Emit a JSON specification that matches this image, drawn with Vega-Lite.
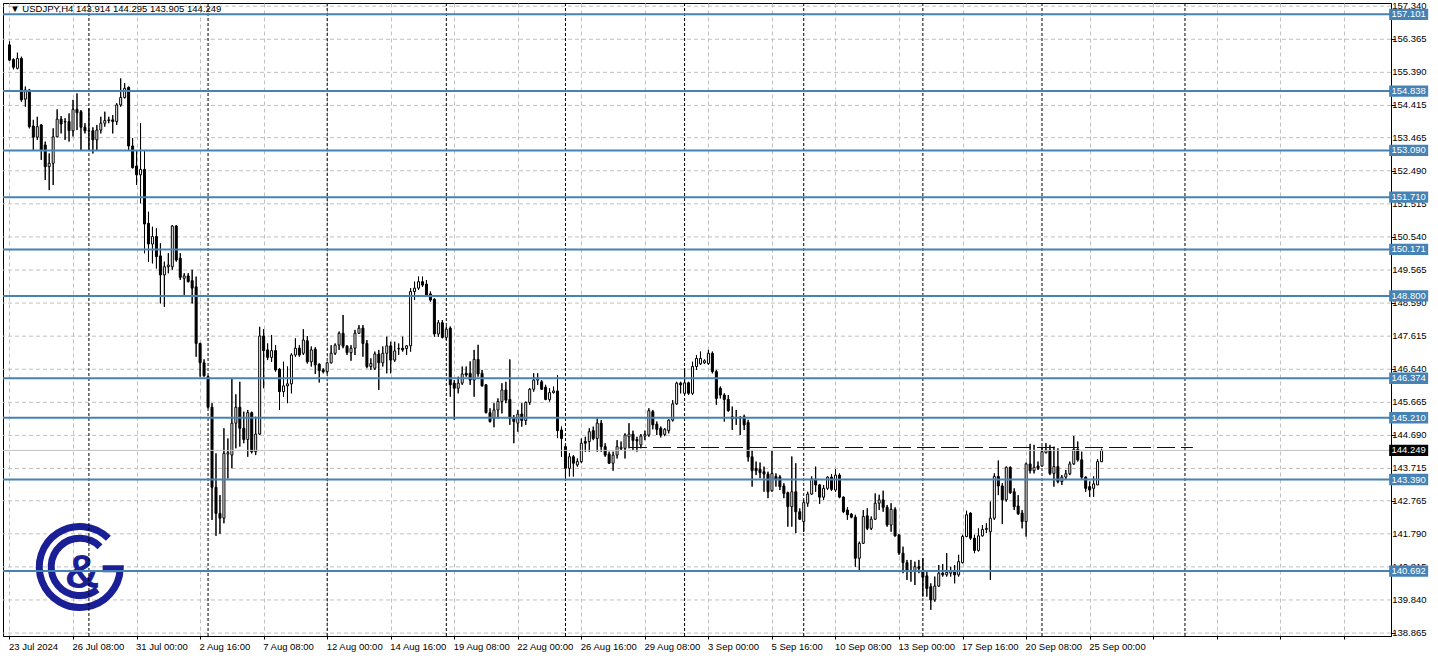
{
"$schema": "https://vega.github.io/schema/vega-lite/v6.json",
"width": 1388, "height": 633,
"autosize": {"type": "none"},
"padding": {"left": 3, "top": 3, "right": 47, "bottom": 22},
"background": "white",
"config": {"view": {"stroke": "black", "strokeWidth": 1}, "axis": {"labelOverlap": false, "labelSeparation": 0, "labelBound": false, "labelFlush": false}},
"datasets": {
"candles": [
{"i":0,"o":156.20,"h":156.30,"l":155.73,"c":155.75},
{"i":1,"o":155.77,"h":155.80,"l":155.48,"c":155.54},
{"i":2,"o":155.51,"h":155.97,"l":155.48,"c":155.80},
{"i":3,"o":155.80,"h":155.85,"l":154.53,"c":154.58},
{"i":4,"o":154.60,"h":154.97,"l":154.38,"c":154.87},
{"i":5,"o":154.87,"h":154.90,"l":153.74,"c":153.79},
{"i":6,"o":153.81,"h":153.99,"l":153.10,"c":153.48},
{"i":7,"o":153.48,"h":154.08,"l":153.40,"c":153.79},
{"i":8,"o":153.84,"h":153.87,"l":152.81,"c":153.10},
{"i":9,"o":153.25,"h":153.35,"l":152.22,"c":152.61},
{"i":10,"o":152.61,"h":153.00,"l":151.92,"c":152.71},
{"i":11,"o":152.71,"h":153.74,"l":152.07,"c":153.49},
{"i":12,"o":153.49,"h":154.30,"l":153.48,"c":154.01},
{"i":13,"o":154.01,"h":154.10,"l":153.59,"c":153.87},
{"i":14,"o":153.94,"h":154.04,"l":153.40,"c":153.93},
{"i":15,"o":153.94,"h":154.18,"l":153.35,"c":153.67},
{"i":16,"o":153.67,"h":154.58,"l":153.50,"c":154.30},
{"i":17,"o":154.30,"h":154.77,"l":153.69,"c":154.20},
{"i":18,"o":154.23,"h":154.28,"l":153.10,"c":153.77},
{"i":19,"o":153.77,"h":153.89,"l":153.59,"c":153.67},
{"i":20,"o":153.67,"h":154.33,"l":153.10,"c":153.66},
{"i":21,"o":153.67,"h":153.77,"l":153.00,"c":153.40},
{"i":22,"o":153.40,"h":153.84,"l":153.10,"c":153.69},
{"i":23,"o":153.69,"h":154.08,"l":153.59,"c":153.89},
{"i":24,"o":153.89,"h":154.23,"l":153.79,"c":153.97},
{"i":25,"o":153.97,"h":154.08,"l":153.89,"c":153.99},
{"i":26,"o":153.99,"h":154.13,"l":153.59,"c":153.94},
{"i":27,"o":153.94,"h":154.48,"l":153.84,"c":154.43},
{"i":28,"o":154.43,"h":155.21,"l":154.38,"c":154.65},
{"i":29,"o":154.65,"h":155.07,"l":154.62,"c":154.92},
{"i":30,"o":154.95,"h":154.97,"l":153.10,"c":153.22},
{"i":31,"o":153.22,"h":153.45,"l":152.56,"c":152.58},
{"i":32,"o":152.63,"h":153.10,"l":152.07,"c":152.37},
{"i":33,"o":152.37,"h":153.89,"l":151.53,"c":152.53},
{"i":34,"o":152.53,"h":153.10,"l":150.06,"c":150.92},
{"i":35,"o":150.94,"h":151.28,"l":149.81,"c":150.33},
{"i":36,"o":150.33,"h":150.84,"l":149.76,"c":150.55},
{"i":37,"o":150.55,"h":150.79,"l":149.61,"c":149.96},
{"i":38,"o":149.98,"h":150.35,"l":148.58,"c":149.42},
{"i":39,"o":149.42,"h":149.81,"l":148.48,"c":149.66},
{"i":40,"o":149.66,"h":150.06,"l":149.47,"c":149.71},
{"i":41,"o":149.66,"h":150.89,"l":149.57,"c":150.86},
{"i":42,"o":150.86,"h":150.89,"l":149.81,"c":149.86},
{"i":43,"o":149.91,"h":150.06,"l":149.27,"c":149.35},
{"i":44,"o":149.32,"h":149.47,"l":148.83,"c":149.39},
{"i":45,"o":149.39,"h":149.47,"l":149.20,"c":149.22},
{"i":46,"o":149.25,"h":149.57,"l":148.58,"c":149.03},
{"i":47,"o":149.07,"h":149.37,"l":147.01,"c":147.40},
{"i":48,"o":147.40,"h":147.42,"l":146.42,"c":146.83},
{"i":49,"o":146.83,"h":146.93,"l":146.42,"c":146.45},
{"i":50,"o":146.42,"h":146.45,"l":145.49,"c":145.52},
{"i":51,"o":145.52,"h":145.64,"l":142.20,"c":143.16},
{"i":52,"o":143.16,"h":144.16,"l":141.73,"c":142.39},
{"i":53,"o":142.39,"h":142.93,"l":141.79,"c":142.25},
{"i":54,"o":142.25,"h":144.90,"l":142.10,"c":144.16},
{"i":55,"o":144.14,"h":144.60,"l":143.42,"c":144.18},
{"i":56,"o":144.11,"h":146.37,"l":143.72,"c":145.05},
{"i":57,"o":145.05,"h":145.90,"l":144.31,"c":145.52},
{"i":58,"o":145.52,"h":146.27,"l":144.36,"c":144.90},
{"i":59,"o":144.90,"h":145.39,"l":144.46,"c":144.57},
{"i":60,"o":144.57,"h":145.44,"l":144.06,"c":145.36},
{"i":61,"o":145.36,"h":145.39,"l":144.16,"c":144.21},
{"i":62,"o":144.21,"h":145.24,"l":144.11,"c":144.73},
{"i":63,"o":144.73,"h":147.89,"l":144.70,"c":147.62},
{"i":64,"o":147.62,"h":147.82,"l":146.08,"c":147.19},
{"i":65,"o":147.21,"h":147.40,"l":146.91,"c":146.99},
{"i":66,"o":146.99,"h":147.65,"l":146.86,"c":147.19},
{"i":67,"o":147.19,"h":147.35,"l":146.57,"c":146.62},
{"i":68,"o":146.64,"h":146.67,"l":145.44,"c":145.98},
{"i":69,"o":145.98,"h":146.86,"l":145.83,"c":146.15},
{"i":70,"o":146.15,"h":146.72,"l":145.64,"c":146.21},
{"i":71,"o":146.21,"h":147.11,"l":145.93,"c":147.06},
{"i":72,"o":147.06,"h":147.55,"l":147.01,"c":147.26},
{"i":73,"o":147.26,"h":147.35,"l":147.01,"c":147.06},
{"i":74,"o":147.11,"h":147.82,"l":147.06,"c":147.50},
{"i":75,"o":147.48,"h":147.62,"l":146.81,"c":146.86},
{"i":76,"o":146.86,"h":147.31,"l":146.72,"c":147.21},
{"i":77,"o":147.23,"h":147.29,"l":146.50,"c":146.77},
{"i":78,"o":146.79,"h":146.81,"l":146.25,"c":146.60},
{"i":79,"o":146.62,"h":146.67,"l":146.52,"c":146.57},
{"i":80,"o":146.57,"h":146.86,"l":146.52,"c":146.83},
{"i":81,"o":146.83,"h":147.35,"l":146.81,"c":147.11},
{"i":82,"o":147.11,"h":147.40,"l":147.06,"c":147.35},
{"i":83,"o":147.35,"h":147.75,"l":147.21,"c":147.70},
{"i":84,"o":147.70,"h":148.24,"l":147.26,"c":147.32},
{"i":85,"o":147.32,"h":147.35,"l":147.06,"c":147.13},
{"i":86,"o":147.13,"h":147.35,"l":146.89,"c":147.26},
{"i":87,"o":147.26,"h":147.80,"l":147.06,"c":147.70},
{"i":88,"o":147.70,"h":147.94,"l":147.68,"c":147.85},
{"i":89,"o":147.85,"h":147.94,"l":147.01,"c":147.40},
{"i":90,"o":147.40,"h":147.50,"l":146.67,"c":146.72},
{"i":91,"o":146.72,"h":146.96,"l":146.62,"c":146.81},
{"i":92,"o":146.67,"h":147.16,"l":146.62,"c":147.09},
{"i":93,"o":147.09,"h":147.21,"l":146.03,"c":146.83},
{"i":94,"o":146.83,"h":147.31,"l":146.72,"c":147.11},
{"i":95,"o":147.11,"h":147.60,"l":146.52,"c":147.33},
{"i":96,"o":147.33,"h":147.45,"l":146.52,"c":146.91},
{"i":97,"o":146.91,"h":147.45,"l":146.86,"c":147.18},
{"i":98,"o":147.24,"h":147.40,"l":147.06,"c":147.25},
{"i":99,"o":147.26,"h":147.60,"l":147.16,"c":147.21},
{"i":100,"o":147.25,"h":147.35,"l":147.06,"c":147.33},
{"i":101,"o":147.33,"h":149.03,"l":147.16,"c":148.93},
{"i":102,"o":148.93,"h":149.22,"l":148.68,"c":149.03},
{"i":103,"o":149.03,"h":149.37,"l":148.98,"c":149.22},
{"i":104,"o":149.22,"h":149.37,"l":149.07,"c":149.12},
{"i":105,"o":149.15,"h":149.27,"l":148.78,"c":148.83},
{"i":106,"o":148.86,"h":148.93,"l":148.63,"c":148.68},
{"i":107,"o":148.70,"h":148.73,"l":147.60,"c":147.68},
{"i":108,"o":147.68,"h":148.09,"l":147.60,"c":148.01},
{"i":109,"o":148.01,"h":148.09,"l":147.55,"c":147.58},
{"i":110,"o":147.58,"h":147.90,"l":147.50,"c":147.82},
{"i":111,"o":147.85,"h":147.90,"l":145.83,"c":146.18},
{"i":112,"o":146.23,"h":146.32,"l":145.15,"c":146.08},
{"i":113,"o":146.08,"h":146.42,"l":145.93,"c":146.23},
{"i":114,"o":146.23,"h":146.72,"l":146.18,"c":146.50},
{"i":115,"o":146.52,"h":146.72,"l":146.42,"c":146.47},
{"i":116,"o":146.52,"h":146.87,"l":146.18,"c":146.32},
{"i":117,"o":146.32,"h":147.21,"l":145.83,"c":146.93},
{"i":118,"o":146.93,"h":147.36,"l":146.42,"c":146.50},
{"i":119,"o":146.52,"h":146.62,"l":146.13,"c":146.15},
{"i":120,"o":146.18,"h":146.20,"l":145.34,"c":145.36},
{"i":121,"o":145.36,"h":145.49,"l":145.07,"c":145.10},
{"i":122,"o":145.19,"h":145.64,"l":144.93,"c":145.44},
{"i":123,"o":145.44,"h":145.78,"l":145.19,"c":145.69},
{"i":124,"o":145.69,"h":146.23,"l":145.34,"c":146.03},
{"i":125,"o":146.03,"h":146.27,"l":145.64,"c":145.73},
{"i":126,"o":145.75,"h":146.93,"l":145.00,"c":145.19},
{"i":127,"o":145.19,"h":145.29,"l":144.46,"c":145.10},
{"i":128,"o":145.05,"h":145.44,"l":144.80,"c":145.32},
{"i":129,"o":145.32,"h":145.64,"l":144.95,"c":145.13},
{"i":130,"o":145.13,"h":145.69,"l":145.00,"c":145.66},
{"i":131,"o":145.66,"h":146.08,"l":145.59,"c":146.05},
{"i":132,"o":146.05,"h":146.52,"l":145.98,"c":146.32},
{"i":133,"o":146.32,"h":146.52,"l":146.18,"c":146.37},
{"i":134,"o":146.27,"h":146.32,"l":146.03,"c":146.05},
{"i":135,"o":146.11,"h":146.18,"l":145.73,"c":145.75},
{"i":136,"o":145.75,"h":146.08,"l":145.69,"c":145.95},
{"i":137,"o":145.95,"h":146.13,"l":145.93,"c":146.00},
{"i":138,"o":146.00,"h":146.47,"l":144.61,"c":144.83},
{"i":139,"o":144.85,"h":144.95,"l":144.06,"c":144.60},
{"i":140,"o":144.36,"h":144.40,"l":143.43,"c":143.72},
{"i":141,"o":143.72,"h":144.16,"l":143.48,"c":144.06},
{"i":142,"o":144.06,"h":144.11,"l":143.48,"c":143.87},
{"i":143,"o":143.82,"h":144.01,"l":143.77,"c":143.92},
{"i":144,"o":143.92,"h":144.60,"l":143.87,"c":144.46},
{"i":145,"o":144.51,"h":144.65,"l":144.21,"c":144.46},
{"i":146,"o":144.51,"h":144.90,"l":144.21,"c":144.80},
{"i":147,"o":144.83,"h":144.95,"l":144.55,"c":144.60},
{"i":148,"o":144.60,"h":145.19,"l":144.21,"c":145.05},
{"i":149,"o":145.05,"h":145.14,"l":144.21,"c":144.36},
{"i":150,"o":144.36,"h":144.46,"l":144.06,"c":144.11},
{"i":151,"o":144.14,"h":144.21,"l":143.85,"c":143.87},
{"i":152,"o":143.87,"h":144.21,"l":143.65,"c":144.11},
{"i":153,"o":144.11,"h":144.55,"l":144.01,"c":144.36},
{"i":154,"o":144.30,"h":144.51,"l":144.26,"c":144.34},
{"i":155,"o":144.31,"h":144.75,"l":144.01,"c":144.70},
{"i":156,"o":144.65,"h":145.05,"l":144.31,"c":144.73},
{"i":157,"o":144.73,"h":144.83,"l":144.26,"c":144.54},
{"i":158,"o":144.57,"h":144.65,"l":144.21,"c":144.53},
{"i":159,"o":144.41,"h":144.73,"l":144.31,"c":144.67},
{"i":160,"o":144.67,"h":144.83,"l":144.55,"c":144.72},
{"i":161,"o":144.70,"h":145.49,"l":144.65,"c":145.42},
{"i":162,"o":145.39,"h":145.44,"l":144.87,"c":145.00},
{"i":163,"o":145.02,"h":145.10,"l":144.70,"c":144.87},
{"i":164,"o":144.90,"h":144.95,"l":144.63,"c":144.70},
{"i":165,"o":144.72,"h":144.90,"l":144.67,"c":144.87},
{"i":166,"o":144.83,"h":145.16,"l":144.75,"c":145.14},
{"i":167,"o":145.14,"h":145.73,"l":145.10,"c":145.62},
{"i":168,"o":145.62,"h":146.27,"l":145.59,"c":146.23},
{"i":169,"o":146.23,"h":146.27,"l":145.93,"c":146.18},
{"i":170,"o":145.93,"h":146.67,"l":145.88,"c":146.24},
{"i":171,"o":146.24,"h":146.27,"l":145.88,"c":145.93},
{"i":172,"o":145.93,"h":146.86,"l":145.88,"c":146.72},
{"i":173,"o":146.72,"h":147.06,"l":146.62,"c":146.96},
{"i":174,"o":146.80,"h":147.16,"l":146.77,"c":146.96},
{"i":175,"o":146.83,"h":146.93,"l":146.80,"c":146.89},
{"i":176,"o":146.81,"h":147.21,"l":146.77,"c":147.11},
{"i":177,"o":147.11,"h":147.16,"l":146.52,"c":146.57},
{"i":178,"o":146.57,"h":146.62,"l":145.59,"c":145.78},
{"i":179,"o":146.08,"h":146.13,"l":145.78,"c":145.88},
{"i":180,"o":145.88,"h":145.93,"l":145.10,"c":145.75},
{"i":181,"o":145.75,"h":145.88,"l":145.39,"c":145.42},
{"i":182,"o":145.24,"h":145.54,"l":144.85,"c":145.18},
{"i":183,"o":145.21,"h":145.44,"l":145.00,"c":145.20},
{"i":184,"o":145.21,"h":145.26,"l":144.70,"c":145.20},
{"i":185,"o":145.24,"h":145.30,"l":144.85,"c":145.00},
{"i":186,"o":145.07,"h":145.15,"l":143.92,"c":144.05},
{"i":187,"o":144.06,"h":144.26,"l":143.18,"c":143.65},
{"i":188,"o":143.72,"h":143.92,"l":143.52,"c":143.65},
{"i":189,"o":143.69,"h":143.89,"l":143.43,"c":143.59},
{"i":190,"o":143.62,"h":143.77,"l":143.03,"c":143.55},
{"i":191,"o":143.55,"h":143.62,"l":142.84,"c":143.03},
{"i":192,"o":143.06,"h":144.26,"l":143.03,"c":143.57},
{"i":193,"o":143.48,"h":143.57,"l":143.18,"c":143.38},
{"i":194,"o":143.46,"h":143.52,"l":143.08,"c":143.18},
{"i":195,"o":143.20,"h":143.28,"l":142.84,"c":142.98},
{"i":196,"o":143.00,"h":143.03,"l":142.00,"c":142.59},
{"i":197,"o":142.59,"h":144.07,"l":142.00,"c":143.03},
{"i":198,"o":143.03,"h":143.87,"l":141.81,"c":142.44},
{"i":199,"o":142.44,"h":142.54,"l":142.20,"c":142.22},
{"i":200,"o":142.15,"h":142.79,"l":141.85,"c":142.71},
{"i":201,"o":142.69,"h":143.03,"l":142.59,"c":142.96},
{"i":202,"o":142.96,"h":143.48,"l":142.94,"c":143.40},
{"i":203,"o":143.40,"h":143.77,"l":143.03,"c":143.23},
{"i":204,"o":143.23,"h":143.26,"l":142.67,"c":142.87},
{"i":205,"o":142.87,"h":143.23,"l":142.79,"c":143.13},
{"i":206,"o":143.13,"h":143.48,"l":143.08,"c":143.46},
{"i":207,"o":143.46,"h":143.55,"l":143.05,"c":143.10},
{"i":208,"o":143.08,"h":143.69,"l":143.03,"c":143.52},
{"i":209,"o":143.52,"h":143.57,"l":142.84,"c":142.87},
{"i":210,"o":142.87,"h":142.89,"l":142.40,"c":142.44},
{"i":211,"o":142.49,"h":142.57,"l":142.20,"c":142.35},
{"i":212,"o":142.37,"h":142.40,"l":142.25,"c":142.28},
{"i":213,"o":142.28,"h":142.35,"l":140.82,"c":141.07},
{"i":214,"o":141.07,"h":141.56,"l":140.68,"c":141.51},
{"i":215,"o":141.51,"h":142.49,"l":141.49,"c":142.30},
{"i":216,"o":142.32,"h":142.54,"l":141.90,"c":141.95},
{"i":217,"o":141.95,"h":142.30,"l":141.90,"c":142.22},
{"i":218,"o":142.22,"h":142.98,"l":142.20,"c":142.69},
{"i":219,"o":142.69,"h":142.94,"l":142.49,"c":142.79},
{"i":220,"o":142.79,"h":143.06,"l":142.44,"c":142.57},
{"i":221,"o":142.57,"h":142.64,"l":142.00,"c":142.05},
{"i":222,"o":142.05,"h":142.69,"l":141.85,"c":142.51},
{"i":223,"o":142.51,"h":142.57,"l":141.71,"c":141.73},
{"i":224,"o":141.76,"h":141.76,"l":141.17,"c":141.22},
{"i":225,"o":141.22,"h":141.41,"l":140.63,"c":140.94},
{"i":226,"o":140.94,"h":141.02,"l":140.43,"c":140.70},
{"i":227,"o":140.70,"h":141.02,"l":140.38,"c":140.67},
{"i":228,"o":140.70,"h":140.97,"l":140.28,"c":140.82},
{"i":229,"o":140.82,"h":141.02,"l":140.63,"c":140.77},
{"i":230,"o":140.72,"h":141.07,"l":139.94,"c":140.51},
{"i":231,"o":140.55,"h":140.72,"l":139.94,"c":140.18},
{"i":232,"o":140.23,"h":140.33,"l":139.55,"c":139.84},
{"i":233,"o":139.84,"h":140.53,"l":139.79,"c":140.25},
{"i":234,"o":140.25,"h":140.87,"l":140.23,"c":140.63},
{"i":235,"o":140.63,"h":140.90,"l":140.53,"c":140.58},
{"i":236,"o":140.58,"h":141.22,"l":140.53,"c":140.65},
{"i":237,"o":140.63,"h":140.82,"l":140.53,"c":140.68},
{"i":238,"o":140.68,"h":140.87,"l":140.33,"c":140.58},
{"i":239,"o":140.58,"h":141.17,"l":140.53,"c":140.97},
{"i":240,"o":140.94,"h":141.76,"l":140.92,"c":141.71},
{"i":241,"o":141.71,"h":142.47,"l":141.69,"c":142.35},
{"i":242,"o":142.40,"h":142.42,"l":141.61,"c":141.66},
{"i":243,"o":141.66,"h":141.76,"l":141.22,"c":141.30},
{"i":244,"o":141.30,"h":141.95,"l":141.27,"c":141.73},
{"i":245,"o":141.73,"h":142.05,"l":141.71,"c":141.92},
{"i":246,"o":141.92,"h":142.10,"l":141.81,"c":141.95},
{"i":247,"o":141.85,"h":142.74,"l":140.43,"c":142.25},
{"i":248,"o":142.25,"h":143.57,"l":142.20,"c":143.48},
{"i":249,"o":143.48,"h":143.95,"l":142.93,"c":143.20},
{"i":250,"o":143.20,"h":143.28,"l":142.08,"c":142.79},
{"i":251,"o":142.79,"h":143.77,"l":142.74,"c":143.75},
{"i":252,"o":143.75,"h":143.77,"l":142.97,"c":143.00},
{"i":253,"o":143.03,"h":143.13,"l":142.49,"c":142.59},
{"i":254,"o":142.61,"h":142.93,"l":142.35,"c":142.38},
{"i":255,"o":142.40,"h":142.49,"l":141.95,"c":142.15},
{"i":256,"o":142.15,"h":143.89,"l":141.71,"c":143.85},
{"i":257,"o":143.85,"h":144.44,"l":143.57,"c":143.65},
{"i":258,"o":143.65,"h":144.41,"l":143.57,"c":143.75},
{"i":259,"o":143.79,"h":143.92,"l":143.67,"c":143.72},
{"i":260,"o":143.79,"h":144.36,"l":143.77,"c":144.21},
{"i":261,"o":144.18,"h":144.46,"l":144.16,"c":144.26},
{"i":262,"o":144.26,"h":144.41,"l":143.52,"c":143.57},
{"i":263,"o":143.57,"h":144.36,"l":143.18,"c":143.77},
{"i":264,"o":143.77,"h":144.31,"l":143.28,"c":143.33},
{"i":265,"o":143.33,"h":143.52,"l":143.23,"c":143.46},
{"i":266,"o":143.46,"h":143.67,"l":143.38,"c":143.56},
{"i":267,"o":143.56,"h":143.92,"l":143.52,"c":143.85},
{"i":268,"o":143.85,"h":144.67,"l":143.82,"c":144.28},
{"i":269,"o":144.28,"h":144.51,"l":143.92,"c":143.97},
{"i":270,"o":143.97,"h":144.21,"l":143.40,"c":143.46},
{"i":271,"o":143.46,"h":143.48,"l":143.03,"c":143.13},
{"i":272,"o":143.18,"h":143.33,"l":142.88,"c":143.08},
{"i":273,"o":143.13,"h":143.48,"l":142.88,"c":143.26},
{"i":274,"o":143.23,"h":143.99,"l":143.23,"c":143.92},
{"i":275,"o":143.914,"h":144.295,"l":143.905,"c":144.249}
],
"levels": [{"level":157.101},{"level":154.838},{"level":153.090},{"level":151.710},{"level":150.171},{"level":148.800},{"level":146.374},{"level":145.210},{"level":143.390},{"level":140.692}],
"seps": [{"bar":20},{"bar":50},{"bar":80},{"bar":110},{"bar":140},{"bar":170},{"bar":200},{"bar":230},{"bar":260},{"bar":296}],
"pticks": [{"p":157.34},{"p":156.365},{"p":155.39},{"p":154.415},{"p":153.465},{"p":152.49},{"p":151.515},{"p":150.54},{"p":149.565},{"p":148.59},{"p":147.615},{"p":146.64},{"p":145.665},{"p":144.69},{"p":143.715},{"p":142.765},{"p":141.79},{"p":140.815},{"p":139.84},{"p":138.865}],
"one": [{}]
},
"layer": [
{
"data": {"name": "pticks"},
"mark": {"type": "rule", "color": "#c0c0c0", "strokeWidth": 1, "strokeDash": [4,3]},
"encoding": {"y": {"field": "p", "type": "quantitative", "title": null}}
},
{
"data": {"name": "candles"},
"mark": {"type": "rule", "color": "black", "strokeWidth": 1},
"encoding": {
"x": {"field": "i", "type": "quantitative", "title": null, "scale": {"domain": [-0.375, 346.625], "nice": false, "zero": false},
"axis": {"title": null, "orient": "bottom", "values": [0,8,16,24,32,40,48,56,64,72,80,88,96,104,112,120,128,136,144,152,160,168,176,184,192,200,208,216,224,232,240,248,256,264,272,280,288,296,304,312,320,328,336,344],
"labelExpr": "datum.value % 16 == 0 && datum.value <= 272 ? ['23 Jul 2024','26 Jul 08:00','31 Jul 00:00','2 Aug 16:00','7 Aug 08:00','12 Aug 00:00','14 Aug 16:00','19 Aug 08:00','22 Aug 00:00','26 Aug 16:00','29 Aug 08:00','3 Sep 00:00','5 Sep 16:00','10 Sep 08:00','13 Sep 00:00','17 Sep 16:00','20 Sep 08:00','25 Sep 00:00'][datum.value / 16] : ''",
"grid": true, "gridColor": "#c0c0c0", "gridDash": [4,3], "gridWidth": 1,
"domain": true, "domainColor": "black", "ticks": true, "tickColor": "black", "tickSize": 3,
"labelAlign": "left", "labelBaseline": "top", "labelPadding": 2, "labelOffset": -1, "labelFlush": false, "labelOverlap": false,
"labelFont": "Liberation Sans", "labelFontSize": 9.5, "labelColor": "black"}},
"y": {"field": "l", "type": "quantitative", "title": null, "scale": {"domain": [138.778, 157.434], "nice": false, "zero": false},
"axis": {"title": null, "orient": "right", "values": [157.34,156.365,155.39,154.415,153.465,152.49,151.515,150.54,149.565,148.59,147.615,146.64,145.665,144.69,143.715,142.765,141.79,140.815,139.84,138.865],
"grid": false, "labels": false,
"domain": true, "domainColor": "black", "ticks": true, "tickColor": "black", "tickSize": 4}},
"y2": {"field": "h"}
}
},
{
"data": {"name": "pticks"},
"mark": {"type": "text", "font": "Liberation Sans", "fontSize": 9.5, "color": "black", "align": "left", "baseline": "middle"},
"encoding": {
"x": {"datum": 348.2, "type": "quantitative", "title": null},
"y": {"field": "p", "type": "quantitative", "title": null},
"text": {"field": "p", "type": "quantitative", "format": ".3f"}
}
},
{
"data": {"name": "one"},
"mark": {"type": "point", "shape": "M0.651,-0.651 A0.92,0.92 0 1 0 0.919,0.04 L0.52,0.04 M0.46,-0.46 A0.65,0.65 0 1 0 0.4,0.512", "filled": false, "stroke": "#1a1f96", "strokeWidth": 7, "strokeCap": "butt", "size": 7744, "opacity": 1},
"encoding": {
"x": {"datum": 17.7, "type": "quantitative", "title": null},
"y": {"datum": 140.812, "type": "quantitative", "title": null}
}
},
{
"data": {"name": "one"},
"mark": {"type": "text", "text": "&", "font": "Liberation Sans", "fontWeight": "bold", "fontSize": 48, "color": "#1a1f96", "align": "center", "baseline": "middle"},
"encoding": {
"x": {"datum": 18.3, "type": "quantitative", "title": null},
"y": {"datum": 140.62, "type": "quantitative", "title": null}
}
},
{
"data": {"name": "seps"},
"mark": {"type": "rule", "color": "black", "strokeWidth": 1, "strokeDash": [3,2]},
"encoding": {"x": {"field": "bar", "type": "quantitative", "title": null}}
},
{
"data": {"name": "candles"},
"mark": {"type": "rule", "color": "black", "strokeWidth": 1},
"encoding": {
"x": {"field": "i", "type": "quantitative", "title": null},
"y": {"field": "l", "type": "quantitative", "title": null},
"y2": {"field": "h"}
}
},
{
"data": {"name": "candles"},
"mark": {"type": "bar", "width": 2, "stroke": "black", "strokeWidth": 1},
"encoding": {
"x": {"field": "i", "type": "quantitative", "title": null},
"y": {"field": "o", "type": "quantitative", "title": null},
"y2": {"field": "c"},
"fill": {"condition": {"test": "datum.c < datum.o", "value": "black"}, "value": "white"}
}
},
{
"data": {"name": "one"},
"mark": {"type": "rule", "color": "#c0c0c0", "strokeWidth": 1},
"encoding": {"y": {"datum": 144.249, "type": "quantitative", "title": null}}
},
{
"data": {"name": "levels"},
"mark": {"type": "rule", "color": "#4682b4", "strokeWidth": 2},
"encoding": {"y": {"field": "level", "type": "quantitative", "title": null}}
},
{
"data": {"name": "one"},
"mark": {"type": "rule", "color": "#00008b", "strokeWidth": 1.2, "strokeDash": [18,6]},
"encoding": {
"x": {"datum": 156, "type": "quantitative", "title": null},
"x2": {"datum": 298},
"y": {"datum": 144.333, "type": "quantitative", "title": null}
}
},
{
"data": {"name": "one"},
"mark": {"type": "text", "text": "▼ USDJPY,H4  143.914 144.295 143.905 144.249", "font": "Liberation Sans", "fontSize": 9.5, "color": "black", "align": "left", "baseline": "middle"},
"encoding": {
"x": {"datum": 0.2, "type": "quantitative", "title": null},
"y": {"datum": 157.243, "type": "quantitative", "title": null}
}
},
{
"data": {"name": "levels"},
"mark": {"type": "point", "shape": "M-1,-0.29 L1,-0.29 L1,0.29 L-1,0.29 Z", "filled": true, "fill": "#4682b4", "strokeWidth": 0, "size": 1521, "opacity": 1},
"encoding": {
"x": {"datum": 352.33, "type": "quantitative", "title": null},
"y": {"field": "level", "type": "quantitative", "title": null}
}
},
{
"data": {"name": "levels"},
"mark": {"type": "text", "font": "Liberation Sans", "fontSize": 9.5, "color": "white", "align": "center", "baseline": "middle"},
"encoding": {
"x": {"datum": 352.33, "type": "quantitative", "title": null},
"y": {"field": "level", "type": "quantitative", "title": null},
"text": {"field": "level", "type": "quantitative", "format": ".3f"}
}
},
{
"data": {"name": "one"},
"mark": {"type": "point", "shape": "M-1,-0.29 L1,-0.29 L1,0.29 L-1,0.29 Z", "filled": true, "fill": "black", "strokeWidth": 0, "size": 1521, "opacity": 1},
"encoding": {
"x": {"datum": 352.33, "type": "quantitative", "title": null},
"y": {"datum": 144.249, "type": "quantitative", "title": null}
}
},
{
"data": {"name": "one"},
"mark": {"type": "text", "text": "144.249", "font": "Liberation Sans", "fontSize": 9.5, "color": "white", "align": "center", "baseline": "middle"},
"encoding": {
"x": {"datum": 352.33, "type": "quantitative", "title": null},
"y": {"datum": 144.249, "type": "quantitative", "title": null}
}
}
]
}
